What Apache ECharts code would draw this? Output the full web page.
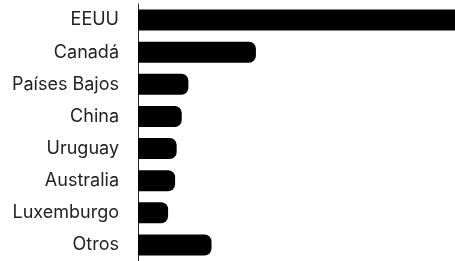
<!DOCTYPE html>
<html>
<head>
<meta charset="utf-8">
<script src="https://cdn.jsdelivr.net/npm/echarts@6/dist/echarts.min.js"></script>
<style>
  html, body { margin: 0; padding: 0; background: #fff; }
  #chart { width: 455px; height: 261px; }
</style>
</head>
<body>
<div id="chart"></div>
<script>
const countries = ['EEUU', 'Canadá', 'Países Bajos', 'China', 'Uruguay', 'Australia', 'Luxemburgo', 'Otros']
const values = [106, 37.2, 15.9, 13.8, 12.2, 11.7, 9.5, 23.2]
const axisMax = 100

const chart = echarts.init(document.getElementById('chart'))
chart.setOption({
  animation: false,
  grid: {
    left: 138,
    right: 0,
    top: 4,
    bottom: -4
  },
  xAxis: {
    type: 'value',
    min: 0,
    max: axisMax,
    show: false
  },
  yAxis: {
    type: 'category',
    inverse: true,
    data: countries,
    axisLine: {
      show: true,
      lineStyle: { color: '#222', width: 1 }
    },
    axisTick: { show: false },
    axisLabel: {
      margin: 19,
      fontFamily: 'Inter',
      fontSize: 18,
      color: '#222'
    }
  },
  series: [
    {
      type: 'bar',
      // bars running past the edge are cut square
      data: values.map(v => (v > axisMax ? { value: v, itemStyle: { borderRadius: 0 } } : v)),
      barWidth: 21,
      clip: true,
      itemStyle: {
        color: '#000',
        borderRadius: [0, 7, 7, 0]
      }
    }
  ]
})
</script>
</body>
</html>
